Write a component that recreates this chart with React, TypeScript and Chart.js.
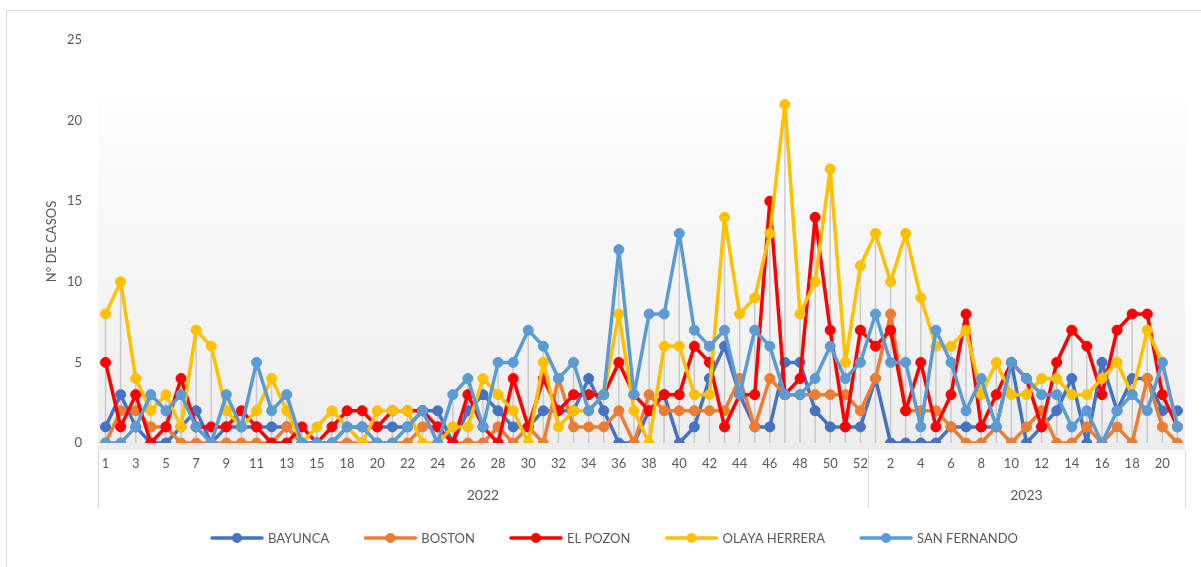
import React, { useEffect, useRef } from "react";
import { Chart, registerables } from "chart.js";

Chart.register(...registerables);

// Epidemiological weeks (2022 has no week 17 in the source)
const weeks2022 = [
  "1", "2", "3", "4", "5", "6", "7", "8", "9", "10", "11", "12", "13", "14", "15", "16",
  "18", "19", "20", "21", "22", "23", "24", "25", "26", "27", "28", "29", "30", "31", "32",
  "33", "34", "35", "36", "37", "38", "39", "40", "41", "42", "43", "44", "45", "46", "47",
  "48", "49", "50", "51", "52",
];
const weeks2023 = [
  "1", "2", "3", "4", "5", "6", "7", "8", "9", "10", "11", "12", "13", "14", "15", "16",
  "17", "18", "19", "20", "21",
];
const years = ["2022", "2023"];
const categories = [...weeks2022, ...weeks2023];

const seriesNames = ["BAYUNCA", "BOSTON", "EL POZON", "OLAYA HERRERA", "SAN FERNANDO"];

const bayunca = [
  1, 3, 1, 0, 0, 1, 2, 0, 1, 1, 1, 1, 1, 0, 0, 0, 1, 1, 1, 1, 1, 2, 2, 0, 2, 3, 2, 1, 1, 2, 2,
  2, 4, 2, 0, 0, 2, 3, 0, 1, 4, 6, 3, 1, 1, 5, 5, 2, 1, 1, 1,
  4, 0, 0, 0, 0, 1, 1, 1, 1, 5, 0, 1, 2, 4, 0, 5, 2, 4, 4, 2, 2,
];
const boston = [
  0, 2, 2, 1, 1, 0, 0, 0, 0, 0, 0, 0, 1, 0, 0, 0, 0, 0, 0, 0, 0, 1, 1, 0, 0, 0, 1, 0, 1, 0, 4,
  1, 1, 1, 2, 0, 3, 2, 2, 2, 2, 2, 4, 1, 4, 3, 3, 3, 3, 3, 2,
  4, 8, 2, 2, 2, 1, 0, 0, 1, 0, 1, 2, 0, 0, 1, 0, 1, 0, 4, 1, 0,
];
const elPozon = [
  5, 1, 3, 0, 1, 4, 1, 1, 1, 2, 1, 0, 0, 1, 0, 1, 2, 2, 1, 2, 2, 2, 1, 0, 3, 1, 0, 4, 1, 4, 2,
  3, 3, 3, 5, 3, 2, 3, 3, 6, 5, 1, 3, 3, 15, 3, 4, 14, 7, 1, 7,
  6, 7, 2, 5, 1, 3, 8, 1, 3, 5, 4, 1, 5, 7, 6, 3, 7, 8, 8, 3, 1,
];
const olayaHerrera = [
  8, 10, 4, 2, 3, 1, 7, 6, 2, 1, 2, 4, 2, 0, 1, 2, 1, 0, 2, 2, 2, 0, 0, 1, 1, 4, 3, 2, 0, 5, 1,
  2, 2, 3, 8, 2, 0, 6, 6, 3, 3, 14, 8, 9, 13, 21, 8, 10, 17, 5, 11,
  13, 10, 13, 9, 6, 6, 7, 3, 5, 3, 3, 4, 4, 3, 3, 4, 5, 3, 7, 5, 1,
];
const sanFernando = [
  0, 0, 1, 3, 2, 3, 1, 0, 3, 1, 5, 2, 3, 0, 0, 0, 1, 1, 0, 0, 1, 2, 0, 3, 4, 1, 5, 5, 7, 6, 4,
  5, 2, 3, 12, 3, 8, 8, 13, 7, 6, 7, 3, 7, 6, 3, 3, 4, 6, 4, 5,
  8, 5, 5, 1, 7, 5, 2, 4, 1, 5, 4, 3, 3, 1, 2, 0, 2, 3, 2, 5, 1,
];

const yTicks = [0, 5, 10, 15, 20, 25];

const seriesValues = [bayunca, boston, elPozon, olayaHerrera, sanFernando];
const seriesColors = ["#4472C4", "#ED7D31", "#FF0000", "#FFC000", "#5B9BD5"];

const FONT = "Lato, 'Open Sans', sans-serif";
const TEXT = "#595959";
const RULE = "#D9D9D9";

const plotBackground = {
  id: "plotBackground",
  beforeDraw(chart: any) {
    const { ctx, chartArea } = chart;
    const top = chartArea.top + 58;
    const bottom = chartArea.bottom + 7;
    const g = ctx.createLinearGradient(0, top, 0, bottom);
    g.addColorStop(0, "#FDFDFD");
    g.addColorStop(1, "#EDEDED");
    ctx.save();
    ctx.fillStyle = g;
    ctx.fillRect(chartArea.left, top, chartArea.right - chartArea.left, bottom - top);
    ctx.restore();
  },
};

const dropLines = {
  id: "dropLines",
  beforeDatasetsDraw(chart: any) {
    const { ctx } = chart;
    const xs = chart.scales.x;
    const ys = chart.scales.y;
    ctx.save();
    ctx.strokeStyle = "rgba(190,190,190,0.75)";
    ctx.lineWidth = 1.5;
    for (let i = 0; i < categories.length; i++) {
      let m = 0;
      chart.data.datasets.forEach((ds: any) => {
        if (ds.data[i] > m) m = ds.data[i];
      });
      const x = xs.getPixelForValue(i);
      ctx.beginPath();
      ctx.moveTo(x, ys.getPixelForValue(m));
      ctx.lineTo(x, ys.getPixelForValue(0));
      ctx.stroke();
    }
    ctx.restore();
  },
};

const yearGroups = {
  id: "yearGroups",
  afterDraw(chart: any) {
    const { ctx, chartArea } = chart;
    const xs = chart.scales.x;
    const band = xs.getPixelForValue(1) - xs.getPixelForValue(0);
    const bounds = [
      xs.getPixelForValue(0) - band / 2,
      xs.getPixelForValue(weeks2022.length - 1) + band / 2,
      xs.getPixelForValue(categories.length - 1) + band / 2,
    ];
    ctx.save();
    ctx.strokeStyle = RULE;
    ctx.lineWidth = 1;
    bounds.forEach((b) => {
      const x = Math.round(b) + 0.5;
      ctx.beginPath();
      ctx.moveTo(x, chartArea.bottom + 7);
      ctx.lineTo(x, 508);
      ctx.stroke();
    });
    ctx.fillStyle = TEXT;
    ctx.font = `14px ${FONT}`;
    ctx.textAlign = "center";
    ctx.textBaseline = "middle";
    years.forEach((yr, k) => {
      ctx.fillText(yr, (bounds[k] + bounds[k + 1]) / 2, 495);
    });
    ctx.restore();
  },
};

const excelLegend = {
  id: "excelLegend",
  afterDraw(chart: any) {
    const { ctx } = chart;
    ctx.save();
    ctx.font = `13px ${FONT}`;
    const lineW = 50;
    const textGap = 6;
    const start = 212;
    const end = 1018;
    const widths = chart.data.datasets.map((ds: any) => ctx.measureText(ds.label).width);
    const total = widths.reduce((s: number, w: number) => s + lineW + textGap + w, 0);
    const gap = (end - start - total) / (widths.length - 1);
    const y = 538;
    let x = start;
    chart.data.datasets.forEach((ds: any, k: number) => {
      ctx.strokeStyle = ds.borderColor;
      ctx.lineWidth = 3.5;
      ctx.lineCap = "round";
      ctx.beginPath();
      ctx.moveTo(x, y);
      ctx.lineTo(x + lineW, y);
      ctx.stroke();
      ctx.fillStyle = ds.borderColor;
      ctx.beginPath();
      ctx.arc(x + lineW / 2, y, 5, 0, Math.PI * 2);
      ctx.fill();
      ctx.fillStyle = TEXT;
      ctx.textAlign = "left";
      ctx.textBaseline = "middle";
      ctx.fillText(ds.label, x + lineW + textGap, y + 1);
      x += lineW + textGap + widths[k] + gap;
    });
    ctx.restore();
  },
};

export default function App() {
  const ref = useRef<HTMLCanvasElement | null>(null);

  useEffect(() => {
    document.body.style.margin = "0";
    const canvas = ref.current;
    if (!canvas) return;
    const chart = new Chart(canvas, {
      type: "line",
      data: {
        labels: categories,
        datasets: seriesNames.map((name, k) => ({
          label: name,
          data: seriesValues[k],
          borderColor: seriesColors[k],
          backgroundColor: seriesColors[k],
          pointBackgroundColor: seriesColors[k],
          pointBorderColor: seriesColors[k],
          borderWidth: 3.5,
          borderJoinStyle: "round",
          borderCapStyle: "round",
          pointRadius: 5,
          pointBorderWidth: 1,
          tension: 0,
          fill: false,
          order: seriesNames.length - k,
        })),
      },
      options: {
        animation: false,
        responsive: false,
        maintainAspectRatio: false,
        layout: { padding: { left: 0, right: 16, top: 40, bottom: 0 } },
        plugins: {
          legend: { display: false },
          tooltip: { enabled: false },
          title: { display: false },
        },
        scales: {
          x: {
            type: "category",
            offset: true,
            grid: { display: false, drawTicks: false },
            border: { display: false },
            ticks: {
              autoSkip: false,
              maxRotation: 0,
              minRotation: 0,
              padding: 13,
              color: TEXT,
              font: { family: FONT, size: 13 },
              callback: (_v: any, i: number) => (i % 2 === 0 ? categories[i] : ""),
            },
            afterFit: (s: any) => {
              s.height = 124;
            },
          },
          y: {
            min: 0,
            max: 25,
            afterBuildTicks: (s: any) => {
              s.ticks = yTicks.map((v) => ({ value: v }));
            },
            grid: { display: false, drawTicks: false },
            border: { display: false },
            ticks: {
              padding: 16,
              color: TEXT,
              font: { family: FONT, size: 13 },
            },
            title: {
              display: true,
              text: "N° DE CASOS",
              color: TEXT,
              font: { family: FONT, size: 13 },
              padding: { top: 44, bottom: 0 },
            },
            afterFit: (s: any) => {
              s.width = 98;
            },
          },
        },
      },
      plugins: [plotBackground, dropLines, yearGroups, excelLegend],
    });
    return () => chart.destroy();
  }, []);

  return (
    <div style={{ position: "relative", width: 1201, height: 567, overflow: "hidden", background: "#fff" }}>
      <canvas ref={ref} width={1201} height={567} style={{ display: "block" }} />
      <div
        style={{
          position: "absolute",
          left: 6,
          top: 10,
          width: 1220,
          height: 600,
          border: `1px solid ${RULE}`,
          pointerEvents: "none",
        }}
      />
    </div>
  );
}
